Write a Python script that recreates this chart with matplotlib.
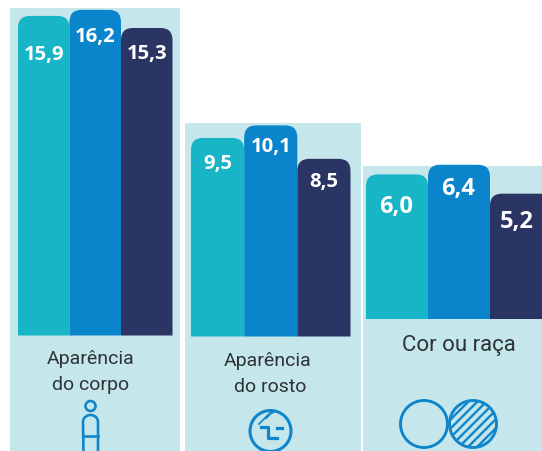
import numpy as np
import matplotlib
matplotlib.use("Agg")
import matplotlib.pyplot as plt
from matplotlib.patches import Circle, PathPatch, Rectangle
from matplotlib.path import Path

W, H = 542, 451
DPI = 100

# ---- data
values_corpo = [15.9, 16.2, 15.3]
values_rosto = [9.5, 10.1, 8.5]
values_cor = [6.0, 6.4, 5.2]
labels_corpo = ["15,9", "16,2", "15,3"]
labels_rosto = ["9,5", "10,1", "8,5"]
labels_cor = ["6,0", "6,4", "5,2"]
title_corpo = "Aparência\ndo corpo"
title_rosto = "Aparência\ndo rosto"
title_cor = "Cor ou raça"

BG = "#C5E6EB"
BAR_COLORS = ["#17B5C6", "#0A85CB", "#2A3564"]
ICON = "#0F86CC"
TXT = "#2E3335"
NARROW = ["Roboto", "DejaVu Sans"]
BOLD = ["Open Sans", "DejaVu Sans"]

fig = plt.figure(figsize=(W / DPI, H / DPI), dpi=DPI, facecolor="white")

# pixel-space overlay for panels, texts and icons
bg = fig.add_axes([0, 0, 1, 1], zorder=0)
bg.set_xlim(0, W)
bg.set_ylim(H, 0)
bg.axis("off")
top = fig.add_axes([0, 0, 1, 1], zorder=5)
top.set_xlim(0, W)
top.set_ylim(H, 0)
top.axis("off")
top.patch.set_alpha(0)

for x0, x1, y0 in [(10, 180, 8), (185, 361, 123), (363, 542, 166)]:
    bg.add_patch(Rectangle((x0, y0), x1 - x0, H - y0, fc=BG, ec="none"))


def rounded_bar(ax, bar, r_px, px_x, px_y):
    x, w, h = bar.get_x(), bar.get_width(), bar.get_height()
    rx, ry = r_px / px_x, r_px / px_y
    verts = [(x, 0), (x, h - ry), (x, h), (x + rx, h), (x + w - rx, h),
             (x + w, h), (x + w, h - ry), (x + w, 0), (x, 0)]
    codes = [Path.MOVETO, Path.LINETO, Path.CURVE3, Path.CURVE3, Path.LINETO,
             Path.CURVE3, Path.CURVE3, Path.LINETO, Path.CLOSEPOLY]
    ax.add_patch(PathPatch(Path(verts, codes), fc=bar.get_facecolor(), ec="none"))
    bar.set_visible(False)


def panel(values, labels, px_left, px_right, px_bottom, px_per_unit, offsets,
          size=14.6, dx=(0, 0, 0)):
    ymax = 17
    height = ymax * px_per_unit
    ax = fig.add_axes([px_left / W, 1 - px_bottom / H,
                       (px_right - px_left) / W, height / H], zorder=2)
    ax.set_xlim(-0.5, 2.5)
    ax.set_ylim(0, ymax)
    ax.axis("off")
    bars = ax.bar(range(3), values, width=1.0, color=BAR_COLORS)
    px_x = (px_right - px_left) / 3
    for b in bars:
        rounded_bar(ax, b, 12, px_x, px_per_unit)
    for i, (v, lab) in enumerate(zip(values, labels)):
        ax.annotate(lab, (i, v), xytext=(dx[i] * 72 / DPI, -offsets[i] * 72 / DPI),
                    textcoords="offset points", ha="center", va="center",
                    color="white", fontsize=size, fontweight="bold", family=BOLD)


panel(values_corpo, labels_corpo, 18, 172.5, 335.5, 20.1, [39, 27, 26])
panel(values_rosto, labels_rosto, 191, 350.5, 336.5, 20.9, [26, 22, 23])
panel(values_cor, labels_cor, 366, 552, 319, 24.1, [33, 24, 28], size=17, dx=(-1, -1, -4))

# ---- category titles
for (a, b), xs, ys in zip(
    [title_corpo.split("\n"), title_rosto.split("\n")],
    [(91, 91), (268, 270)],
    [(359, 385), (361, 387)],
):
    top.text(xs[0], ys[0], a, ha="center", va="center", fontsize=14.0, color=TXT, family=NARROW)
    top.text(xs[1], ys[1], b, ha="center", va="center", fontsize=14.0, color=TXT, family=NARROW)
top.text(459, 345, title_cor, ha="center", va="center", fontsize=16, color=TXT, family=NARROW)

# ---- icons
LW = 1.9
# person
top.add_patch(Circle((90.5, 406), 5, fc="none", ec=ICON, lw=LW))
t = np.linspace(np.pi, 0, 30)
xs = np.r_[83.5, 90.5 + 7.5 * np.cos(t), 98]
ys = np.r_[453, 422 - 7 * np.sin(t), 453]
top.plot(xs, ys, color=ICON, lw=LW)
top.plot([83.5, 98], [436, 436], color=ICON, lw=LW)

# face
face_c = (270.5, 431)
top.add_patch(Circle(face_c, 20.5, fc="none", ec=ICON, lw=LW + 0.3))
clip = Circle(face_c, 20.5, transform=top.transData)
for dx_ in (0, 7, 14):
    ln, = top.plot([259 + dx_, 275 + dx_], [424 - dx_ * 0.8, 408 - dx_ * 0.8], color=ICON, lw=1.2)
    ln.set_clip_path(clip)
top.plot([261, 268, 268, 277], [427, 427, 438, 438], color=ICON, lw=LW + 0.4)
top.plot([277, 282], [428, 428], color=ICON, lw=LW + 0.4)

# circles
top.add_patch(Circle((424, 424), 23.5, fc="none", ec=ICON, lw=LW + 0.2))
hatch_c = Circle((473, 424), 23.5, fc="none", ec=ICON, lw=LW + 0.2)
top.add_patch(hatch_c)
clip2 = Circle((473, 424), 23.5, transform=top.transData)
for off in np.arange(-36, 37, 9):
    ln, = top.plot([473 - 30 + off, 473 + 30 + off], [424 + 30, 424 - 30], color=ICON, lw=1.7)
    ln.set_clip_path(clip2)

fig.savefig("out.png", dpi=DPI, facecolor="white")
